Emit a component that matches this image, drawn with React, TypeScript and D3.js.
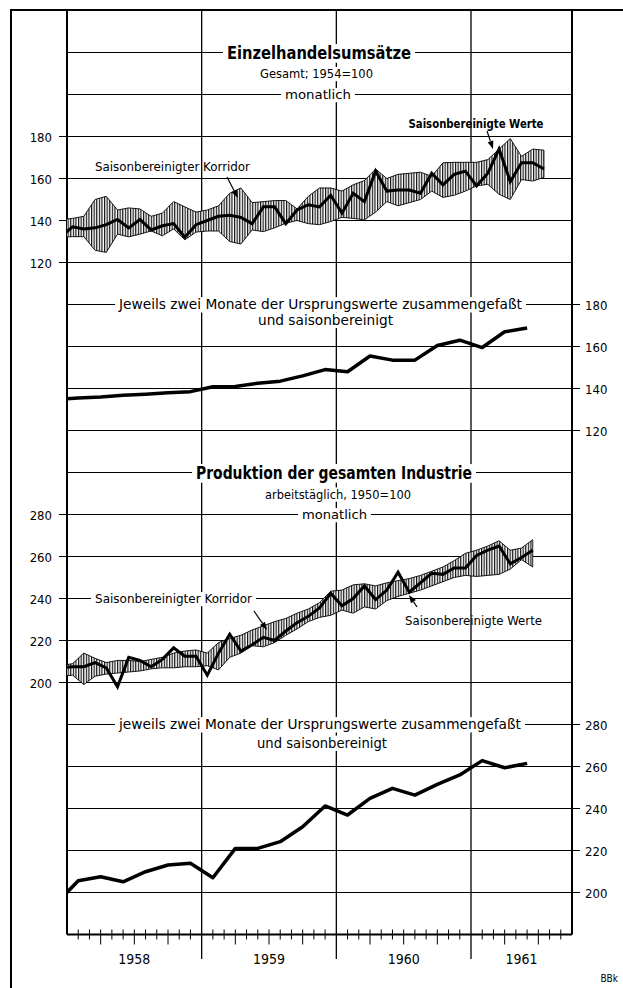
import * as d3 from 'd3';

// Einzelhandelsumsätze, monthly (Dec 1957 .. Jul 1961)
const retailMonthly = [132.5, 137, 136, 136.5, 138, 140.5, 136.5, 140.5, 135.5, 137.5, 138.5, 132, 138, 140, 142, 142.5, 141.5, 138.5, 146.5, 146.5, 138.5, 145, 147.5, 146.5, 152, 143.5, 153, 149, 163.5, 154, 154.5, 154.5, 153, 162.5, 157, 162, 163.5, 156.5, 162.5, 174, 158.5, 167.5, 167.5, 164.5];
const retailUpper = [140.5, 141, 142, 150, 151.5, 145, 146, 145.5, 142, 143.5, 149, 146.5, 144, 145, 147, 153, 155.5, 148.5, 149, 149.5, 149.5, 145.5, 151.5, 155.5, 155.5, 154, 157, 159, 164.5, 160, 162, 162.5, 163, 161, 167.5, 167.7, 167.7, 167.7, 169, 174, 179, 170.5, 174, 173.5];
const retailLower = [132, 132.3, 132.3, 125.8, 124.8, 133.5, 132.2, 133.5, 135, 132.7, 136, 130.8, 134.5, 135, 135, 130, 128.8, 135.5, 134.7, 136.5, 138.7, 140, 138.5, 138, 139.5, 141.5, 141, 140.3, 144, 149, 147, 148.5, 150, 154, 151, 152, 154, 156.5, 157.2, 152.5, 150, 159.5, 158.8, 160.5];
// two months combined (Nov/Dec 1957 .. May/Jun 1961)
const retailTwoMonth = [134.7, 135.5, 136, 136.8, 137.3, 138, 138.5, 140.8, 141, 142.5, 143.5, 146, 149, 148, 155.5, 153.5, 153.5, 160.5, 163, 159.5, 167, 168.8];

// Produktion der gesamten Industrie, monthly (Dec 1957 .. Jun 1961)
const prodMonthly = [207, 207.5, 207.5, 209.5, 207, 198, 212, 210.5, 207.5, 211, 216.5, 212.5, 212.5, 203.5, 214, 223, 215, 218, 221.5, 220, 224.5, 228.5, 231.5, 235.5, 242.5, 236.5, 240, 246, 239.5, 244, 252.5, 243, 247.5, 252, 251.5, 254.5, 254.5, 260.5, 263, 265, 256.5, 259.5, 263];
const prodUpper = [208, 209, 214, 211.5, 209.5, 210.5, 210.5, 210, 211, 212, 214, 215, 215.5, 214, 219, 221, 222.5, 225, 227, 229, 230.5, 233, 235, 238, 243.5, 244, 246.5, 247, 246, 247.5, 248.5, 249.5, 251, 253, 255, 258, 261.5, 263, 265, 267.5, 263, 264, 268];
const prodLower = [203, 203.5, 199, 203, 204, 204.5, 205, 205.5, 206.5, 207, 207, 207.5, 207.5, 208, 206, 212, 214, 217.5, 217, 219, 222.5, 225.5, 229, 231, 232, 234.5, 233, 236, 235, 239, 241, 242.5, 244, 246, 248, 250, 251, 250.5, 251, 251.5, 254, 258.5, 255];
const prodTwoMonth = [194.5, 205.6, 207.5, 205.1, 209.9, 213.1, 213.9, 207, 221, 221, 224.2, 231.3, 241.2, 236.9, 244.8, 249.6, 246.4, 251.5, 256, 262.8, 259.4, 261.5];

const years = ['1958', '1959', '1960', '1961'];
const retailTicks = [120, 140, 160, 180];
const prodTicks = [200, 220, 240, 260, 280];

const FONT = "'DejaVu Sans Condensed', 'DejaVu Sans', sans-serif";
const L = 67, R = 572, TOP = 10, AXIS = 934.5;

const x = d3.scaleLinear().domain([0, 45]).range([L, R]);
const yRetail = d3.scaleLinear().domain([120, 180]).range([262.5, 136.5]);
const yRetail2 = d3.scaleLinear().domain([120, 180]).range([430.5, 304.5]);
const yProd = d3.scaleLinear().domain([200, 280]).range([682.5, 514.5]);
const yProd2 = d3.scaleLinear().domain([200, 280]).range([892.5, 724.5]);

// monthly values sit mid-month, index 0 = Dec 1957
const mPos = (i: number) => x(i - 0.5);
// two-month values sit on the boundary between the two months
const tPos = (j: number) => x(2 * j - 1);

function Label({ cx, y, w, size = 13, weight = 400, bg = false, text }: any) {
  return (
    <g>
      {bg && <rect x={cx - w / 2 - 4} y={y - size * 0.85} width={w + 8} height={size * 1.1} fill="#fff" />}
      <text x={cx} y={y} textAnchor="middle" fontSize={size} fontWeight={weight} fontFamily={FONT}
        textLength={w} lengthAdjust="spacingAndGlyphs">{text}</text>
    </g>
  );
}

function Arrow({ x1, y1, x2, y2 }: any) {
  const a = Math.atan2(y2 - y1, x2 - x1);
  const len = 8, half = 3;
  const bx = x2 - len * Math.cos(a), by = y2 - len * Math.sin(a);
  const p = `${x2},${y2} ${bx + half * Math.sin(a)},${by - half * Math.cos(a)} ${bx - half * Math.sin(a)},${by + half * Math.cos(a)}`;
  return (
    <g>
      <line x1={x1} y1={y1} x2={bx} y2={by} stroke="#000" strokeWidth={1.2} />
      <polygon points={p} fill="#000" />
    </g>
  );
}

function Panel({ monthly, upper, lower, y }: any) {
  const area = d3.area<number>().x((_, i) => mPos(i)).y0((_, i) => y(lower[i])).y1((d) => y(d));
  const line = d3.line<number>().x((_, i) => mPos(i)).y((d) => y(d));
  return (
    <g clipPath="url(#plot)">
      <path d={area(upper) || ''} fill="url(#hatch)" stroke="#000" strokeWidth={0.9} />
      <path d={line(monthly) || ''} fill="none" stroke="#000" strokeWidth={3} strokeLinejoin="miter" />
    </g>
  );
}

function TwoMonth({ values, y }: any) {
  const line = d3.line<number>().x((_, i) => tPos(i)).y((d) => y(d));
  return (
    <g clipPath="url(#plot)">
      <path d={line(values) || ''} fill="none" stroke="#000" strokeWidth={3.5} strokeLinejoin="round" />
    </g>
  );
}

export default function App() {
  const months = d3.range(1, 45);
  const hLine = (yy: number, x1 = L, x2 = R, key?: any) => (
    <line key={key} x1={x1} x2={x2} y1={yy} y2={yy} stroke="#000" strokeWidth={1} />
  );
  return (
    <svg width={623} height={988} style={{ position: 'absolute', left: 0, top: 0, background: '#fff' }}>
      <defs>
        <clipPath id="plot"><rect x={L} y={TOP} width={R - L} height={AXIS - TOP} /></clipPath>
        <pattern id="hatch" width={2.6} height={4} patternUnits="userSpaceOnUse">
          <rect width={2.6} height={4} fill="#fff" />
          <line x1={0.6} x2={0.6} y1={0} y2={4} stroke="#000" strokeWidth={1.1} />
        </pattern>
      </defs>
      <rect width={623} height={988} fill="#fff" />

      {/* outer frame */}
      <line x1={11} x2={11} y1={TOP} y2={988} stroke="#000" strokeWidth={2} />
      <line x1={10} x2={623} y1={TOP} y2={TOP} stroke="#000" strokeWidth={2} />

      {/* horizontal grid */}
      {hLine(yRetail(220), L, R, 'r220')}
      {hLine(yRetail(200), L, R, 'r200')}
      {retailTicks.map((v) => hLine(yRetail(v), L - 8, R, 'r' + v))}
      {retailTicks.map((v) => hLine(yRetail2(v), L, R + 8, 'rr' + v))}
      {hLine(yProd(300), L, R, 'p300')}
      {prodTicks.map((v) => hLine(yProd(v), L - 8, R, 'p' + v))}
      {prodTicks.map((v) => hLine(yProd2(v), L, R + 8, 'pp' + v))}

      {/* vertical grid at year boundaries */}
      {[12, 24, 36].map((m) => (
        <line key={m} x1={x(m)} x2={x(m)} y1={TOP} y2={959} stroke="#000" strokeWidth={1.3} />
      ))}
      <line x1={L} x2={L} y1={TOP} y2={AXIS} stroke="#000" strokeWidth={2} />
      <line x1={R} x2={R} y1={TOP} y2={AXIS} stroke="#000" strokeWidth={2} />

      {/* bottom axis */}
      <line x1={L} x2={R} y1={AXIS} y2={AXIS} stroke="#000" strokeWidth={2} />
      {months.filter((m) => m % 12 !== 0).map((m) => (
        <line key={m} x1={x(m)} x2={x(m)} y1={AXIS - 5} y2={m % 3 === 0 ? AXIS + 10 : AXIS + 5} stroke="#000" strokeWidth={1} />
      ))}
      {years.map((yr, i) => (
        <text key={yr} x={i < 3 ? x(6 + 12 * i) : x(40.5)} y={964} textAnchor="middle" fontSize={14} fontFamily={FONT}>{yr}</text>
      ))}

      {/* tick labels */}
      {retailTicks.map((v) => (
        <text key={'a' + v} x={52} y={yRetail(v) + 5} textAnchor="end" fontSize={13} fontFamily={FONT}>{v}</text>
      ))}
      {retailTicks.map((v) => (
        <text key={'b' + v} x={585} y={yRetail2(v) + 5} fontSize={13} fontFamily={FONT}>{v}</text>
      ))}
      {prodTicks.map((v) => (
        <text key={'c' + v} x={52} y={yProd(v) + 5} textAnchor="end" fontSize={13} fontFamily={FONT}>{v}</text>
      ))}
      {prodTicks.map((v) => (
        <text key={'d' + v} x={585} y={yProd2(v) + 5} fontSize={13} fontFamily={FONT}>{v}</text>
      ))}

      {/* data */}
      <Panel monthly={retailMonthly} upper={retailUpper} lower={retailLower} y={yRetail} />
      <TwoMonth values={retailTwoMonth} y={yRetail2} />
      <Panel monthly={prodMonthly} upper={prodUpper} lower={prodLower} y={yProd} />
      <TwoMonth values={prodTwoMonth} y={yProd2} />

      {/* texts, upper chart */}
      <Label cx={319} y={58.5} w={184} size={17} weight={700} bg text="Einzelhandelsumsätze" />
      <Label cx={316.5} y={78} w={113} size={13} bg text="Gesamt; 1954=100" />
      <Label cx={318} y={99} w={66} size={13} bg text="monatlich" />
      <Label cx={476} y={127.5} w={135} size={13} weight={700} text="Saisonbereinigte Werte" />
      <Arrow x1={487} y1={131} x2={493} y2={149} />
      <Label cx={172.5} y={170.5} w={155} size={13} text="Saisonbereinigter Korridor" />
      <Arrow x1={227} y1={177} x2={238} y2={198} />
      <Label cx={320.5} y={309} w={403} size={14} bg text="Jeweils zwei Monate der Ursprungswerte zusammengefaßt" />
      <Label cx={325.5} y={324.5} w={135} size={14} bg text="und saisonbereinigt" />

      {/* texts, lower chart */}
      <Label cx={334} y={478.5} w={276} size={17} weight={700} bg text="Produktion der gesamten Industrie" />
      <Label cx={338} y={498.5} w={146} size={13} bg text="arbeitstäglich, 1950=100" />
      <Label cx={334.5} y={519} w={65} size={13} bg text="monatlich" />
      <Label cx={173.5} y={603} w={157} size={13} bg text="Saisonbereinigter Korridor" />
      <Arrow x1={254} y1={611} x2={267} y2={630} />
      <Label cx={473.5} y={624.5} w={137} size={13} text="Saisonbereinigte Werte" />
      <Arrow x1={417} y1={607} x2={409} y2={595} />
      <Label cx={320} y={729} w={402} size={14} bg text="jeweils zwei Monate der Ursprungswerte zusammengefaßt" />
      <Label cx={322} y={747.5} w={130} size={14} bg text="und saisonbereinigt" />

      <text x={618} y={982} textAnchor="end" fontSize={10} fontFamily={FONT}>BBk</text>
    </svg>
  );
}
